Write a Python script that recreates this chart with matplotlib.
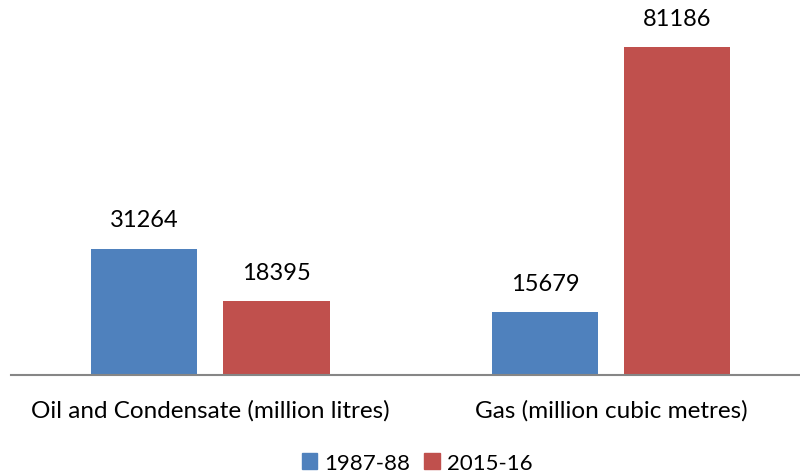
import matplotlib
matplotlib.use("Agg")
import matplotlib.pyplot as plt
import matplotlib.patches as mpatches

plt.rcParams["font.family"] = ["Lato", "DejaVu Sans"]

categories = ["Oil and Condensate (million litres)", "Gas (million cubic metres)"]
series_names = ["1987-88", "2015-16"]
values_1987 = [31264, 15679]
values_2015 = [18395, 81186]
colors = ["#4F81BD", "#C0504D"]

fig = plt.figure(figsize=(8, 4.77), dpi=100)
ax = fig.add_axes([11 / 800, 101 / 477, 789 / 800, 364 / 477])

x = range(len(categories))
off = 0.165
w = 0.265
b1 = ax.bar([i - off for i in x], values_1987, width=w, color=colors[0])
b2 = ax.bar([i + off for i in x], values_2015, width=w, color=colors[1])

for bars in (b1, b2):
    for bar in bars:
        h = bar.get_height()
        ax.annotate(str(int(h)), (bar.get_x() + bar.get_width() / 2, h),
                    xytext=(0, 13), textcoords="offset points",
                    ha="center", va="bottom", fontsize=17)

ax.set_xlim(-0.498, 1.472)
ax.set_ylim(0, 90000)
ax.set_xticks(list(x))
ax.set_xticklabels(categories, fontsize=17.5)
ax.tick_params(axis="x", length=0, pad=17)
ax.set_yticks([])
for s in ["top", "right", "left"]:
    ax.spines[s].set_visible(False)
ax.spines["bottom"].set_color("#868686")
ax.spines["bottom"].set_linewidth(1.5)

handles = [mpatches.Patch(color=c, label=n) for c, n in zip(colors, series_names)]
fig.legend(handles=handles, loc="center", bbox_to_anchor=(417 / 800, 1 - 464 / 477),
           ncol=2, frameon=False, fontsize=16, handlelength=0.7, handleheight=0.7,
           handletextpad=0.3, columnspacing=0.65)

plt.savefig("out.png", dpi=100)
